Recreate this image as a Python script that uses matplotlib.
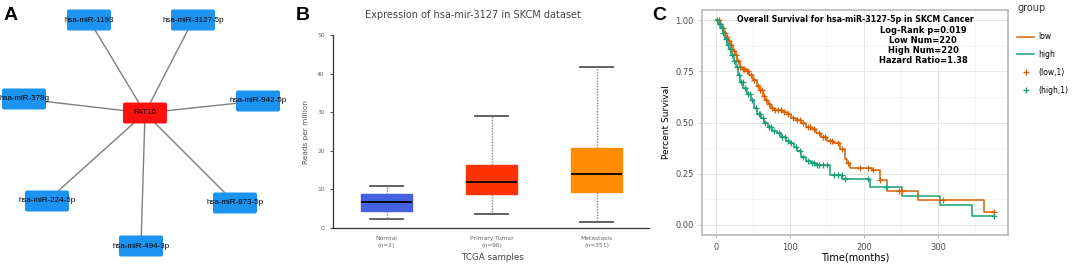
import numpy as np
import matplotlib.pyplot as plt
from matplotlib.patches import FancyBboxPatch
from matplotlib.lines import Line2D

# ---------------- data ----------------
# panel A: network (centre node + miRNA targets)
hub = "FAT10"
mirnas = ["hsa-miR-1193", "hsa-miR-3127-5p", "hsa-miR-378g", "hsa-miR-942-5p",
          "hsa-miR-224-5p", "hsa-miR-873-5p", "hsa-miR-494-3p"]

# panel B: boxplot stats
groups = ["Normal\n(n=2)", "Primary Tumor\n(n=96)", "Metastasis\n(n=351)"]
whislo = [2.3, 3.6, 1.6]
q1 = [4.3, 8.9, 9.4]
med = [6.7, 11.8, 13.9]
q3 = [8.9, 16.2, 20.6]
whishi = [11.0, 28.9, 41.8]
box_colors = ["#4661E0", "#FF3300", "#FF8C00"]

# panel C: KM curves (step points) and censor times
low_t = [0, 5, 8, 11, 14, 17, 20, 23, 26, 29, 32, 35, 40, 45, 50, 55, 59, 63, 67, 70,
         74, 78, 90, 96, 102, 108, 115, 122, 128, 135, 142, 150, 158, 168, 174, 177,
         181, 211, 222, 231, 273, 363]
low_s = [1.0, 0.98, 0.96, 0.94, 0.92, 0.90, 0.88, 0.85, 0.83, 0.80, 0.77, 0.76, 0.75,
         0.73, 0.71, 0.68, 0.66, 0.63, 0.61, 0.59, 0.57, 0.56, 0.55, 0.54, 0.52, 0.51,
         0.50, 0.48, 0.47, 0.45, 0.43, 0.41, 0.40, 0.37, 0.32, 0.30, 0.28, 0.27, 0.22,
         0.165, 0.12, 0.064]
high_t = [0, 3, 6, 9, 12, 15, 18, 21, 24, 27, 30, 33, 37, 42, 47, 52, 56, 61, 65, 70,
          76, 82, 88, 95, 100, 105, 110, 115, 122, 128, 135, 154, 171, 208, 251, 303, 346]
high_s = [1.0, 0.98, 0.96, 0.94, 0.91, 0.88, 0.86, 0.83, 0.80, 0.77, 0.73, 0.70, 0.67,
          0.64, 0.61, 0.57, 0.54, 0.52, 0.50, 0.48, 0.46, 0.45, 0.43, 0.41, 0.40, 0.38,
          0.36, 0.33, 0.31, 0.30, 0.29, 0.245, 0.225, 0.185, 0.14, 0.095, 0.045]
t_end = 376
low_cens = [4, 6, 9, 12, 15, 18, 21, 24, 27, 30, 33, 36, 38, 42, 44, 48, 52, 57, 60, 62,
            65, 68, 72, 76, 80, 84, 88, 92, 98, 104, 110, 114, 118, 124, 127, 132, 140,
            145, 148, 154, 157, 165, 170, 178, 195, 205, 213, 222, 247, 252, 307, 376]
high_cens = [2, 5, 8, 10, 13, 16, 19, 22, 25, 28, 31, 34, 36, 39, 44, 46, 49, 54, 58, 60,
             63, 67, 72, 74, 79, 85, 90, 93, 98, 102, 108, 113, 118, 125, 130, 132, 136,
             140, 145, 150, 160, 165, 170, 175, 206, 230, 376]
col_low = "#D95F02"
col_high = "#1B9E77"

W, H = 1072, 268
fig = plt.figure(figsize=(W / 100, H / 100), dpi=100)
plt.rcParams['font.family'] = ['DejaVu Sans']


def fx(px):
    return px / W


def fy(py):
    return 1 - py / H


# panel letters
for lab, px in [("A", 4), ("B", 296), ("C", 652)]:
    fig.text(fx(px), fy(15), lab, fontsize=14, fontweight="bold",
             family="Liberation Sans", va="center", ha="left")

# ---------------- panel A ----------------
axA = fig.add_axes([0, 0, fx(285), 1])
axA.set_xlim(0, 285)
axA.set_ylim(268, 0)
axA.axis("off")
hub_pos = (145, 113)
node_pos = [(89, 20), (193, 20), (24, 99), (258, 101), (47, 201), (235, 203), (141, 246)]
bw, bh = 44, 21
for (x, y) in node_pos:
    axA.plot([hub_pos[0], x], [hub_pos[1], y], color="#7f7f7f", lw=1, zorder=1)
for name, (x, y) in zip(mirnas, node_pos):
    axA.add_patch(FancyBboxPatch((x - bw / 2, y - bh / 2), bw, bh,
                                 boxstyle="round,pad=0,rounding_size=2",
                                 fc="#1A94F0", ec="none", zorder=2))
    axA.text(x, y, name, fontsize=5.8, family="Liberation Sans", ha="center",
             va="center", zorder=3)
axA.add_patch(FancyBboxPatch((hub_pos[0] - bw / 2, hub_pos[1] - bh / 2), bw, bh,
                             boxstyle="round,pad=0,rounding_size=2",
                             fc="#FF1010", ec="none", zorder=2))
axA.text(hub_pos[0], hub_pos[1], hub, fontsize=5.8, family="Liberation Sans",
         ha="center", va="center", zorder=3)

# ---------------- panel B ----------------
axB = fig.add_axes([fx(333), fy(228), fx(649 - 333), (228 - 35) / H])
stats = []
for i in range(3):
    stats.append(dict(med=med[i], q1=q1[i], q3=q3[i], whislo=whislo[i],
                      whishi=whishi[i], fliers=[]))
bp = axB.bxp(stats, positions=[1, 2, 3], widths=0.49, capwidths=0.32,
             patch_artist=True, showfliers=False,
             whiskerprops=dict(color="#888888", lw=1, ls=(0, (1, 1))),
             capprops=dict(color="#555555", lw=1.3),
             medianprops=dict(color="black", lw=1.3))
for patch, c in zip(bp["boxes"], box_colors):
    patch.set_facecolor(c)
    patch.set_edgecolor(c)
axB.set_xlim(0.49, 3.5)
axB.set_ylim(0, 50)
axB.set_yticks(range(0, 51, 10))
axB.set_xticks([1, 2, 3])
axB.set_xticklabels(groups, fontsize=4.3, color="#666666", linespacing=1.5)
axB.tick_params(axis="x", length=0, pad=6)
axB.tick_params(axis="y", labelsize=4.3, labelcolor="#666666", length=2.5,
                color="#555555", width=0.8)
for s in ["top", "right"]:
    axB.spines[s].set_visible(False)
for s in ["left", "bottom"]:
    axB.spines[s].set_color("#333333")
    axB.spines[s].set_linewidth(0.9)
axB.set_ylabel("Reads per million", fontsize=5.3, color="#555555", labelpad=6)
fig.text(fx(492), fy(258), "TCGA samples", fontsize=6.3, color="#444444",
         ha="center", va="center")
fig.text(fx(473), fy(15), "Expression of hsa-mir-3127 in SKCM dataset",
         fontsize=7, color="#444444", ha="center", va="center")

# ---------------- panel C ----------------
axC = fig.add_axes([fx(702), fy(235), fx(1008 - 702), (235 - 10) / H])


def step_at(ts, ss, t):
    return ss[np.searchsorted(ts, t, side="right") - 1]


for ts, ss, cens, c in [(low_t, low_s, low_cens, col_low),
                        (high_t, high_s, high_cens, col_high)]:
    axC.step(ts + [t_end], ss + [ss[-1]], where="post", color=c, lw=1.1, zorder=3)
    cy = [step_at(ts, ss, t) for t in cens]
    axC.plot(cens, cy, ls="none", marker="+", ms=4.5, mew=0.9, color=c, zorder=4)

axC.set_xlim(-18.8, 394.8)
axC.set_ylim(-0.05, 1.05)
axC.set_xticks([0, 100, 200, 300])
axC.set_yticks([0, 0.25, 0.5, 0.75, 1.0])
axC.set_yticklabels(["0.00", "0.25", "0.50", "0.75", "1.00"])
axC.set_xticks([50, 150, 250, 350], minor=True)
axC.set_yticks([0.125, 0.375, 0.625, 0.875], minor=True)
axC.grid(True, which="major", color="#E6E6E6", lw=0.7)
axC.grid(True, which="minor", color="#F2F2F2", lw=0.5)
axC.set_axisbelow(True)
axC.tick_params(which="major", labelsize=6, labelcolor="#4D4D4D", length=2.5,
                color="#B3B3B3", width=0.7)
axC.tick_params(which="minor", length=0)
for s in axC.spines.values():
    s.set_color("#B3B3B3")
    s.set_linewidth(1.1)
axC.set_ylabel("Percent Survival", fontsize=6.5, color="black", labelpad=3)
fig.text(fx(855), fy(258), "Time(months)", fontsize=7, color="black",
         ha="center", va="center")
axC.text(0.5, (235 - 20) / 225, "Overall Survival for hsa-miR-3127-5p in SKCM Cancer",
         transform=axC.transAxes, ha="center", va="center", fontsize=5.7,
         fontweight="bold")
axC.text((923 - 702) / 306, (235 - 26) / 225,
         "Log-Rank p=0.019\nLow Num=220\nHigh Num=220\nHazard Ratio=1.38",
         transform=axC.transAxes, ha="center", va="top", fontsize=6,
         fontweight="bold", linespacing=1.15)

handles = [Line2D([], [], color=col_low, lw=1.1),
           Line2D([], [], color=col_high, lw=1.1),
           Line2D([], [], ls="none", marker="+", ms=5, mew=1, color=col_low),
           Line2D([], [], ls="none", marker="+", ms=5, mew=1, color=col_high)]
fig.text(fx(1017), fy(8), "group", fontsize=7, color="#333333", ha="left",
         va="center")
fig.legend(handles, ["low", "high", "(low,1)", "(high,1)"],
           loc="center left", bbox_to_anchor=(fx(1012), fy(63.5)), frameon=False,
           fontsize=5.5, labelspacing=1.15, handlelength=2.2, borderpad=0.2,
           handletextpad=0.5)

fig.savefig("out.png", dpi=100)
